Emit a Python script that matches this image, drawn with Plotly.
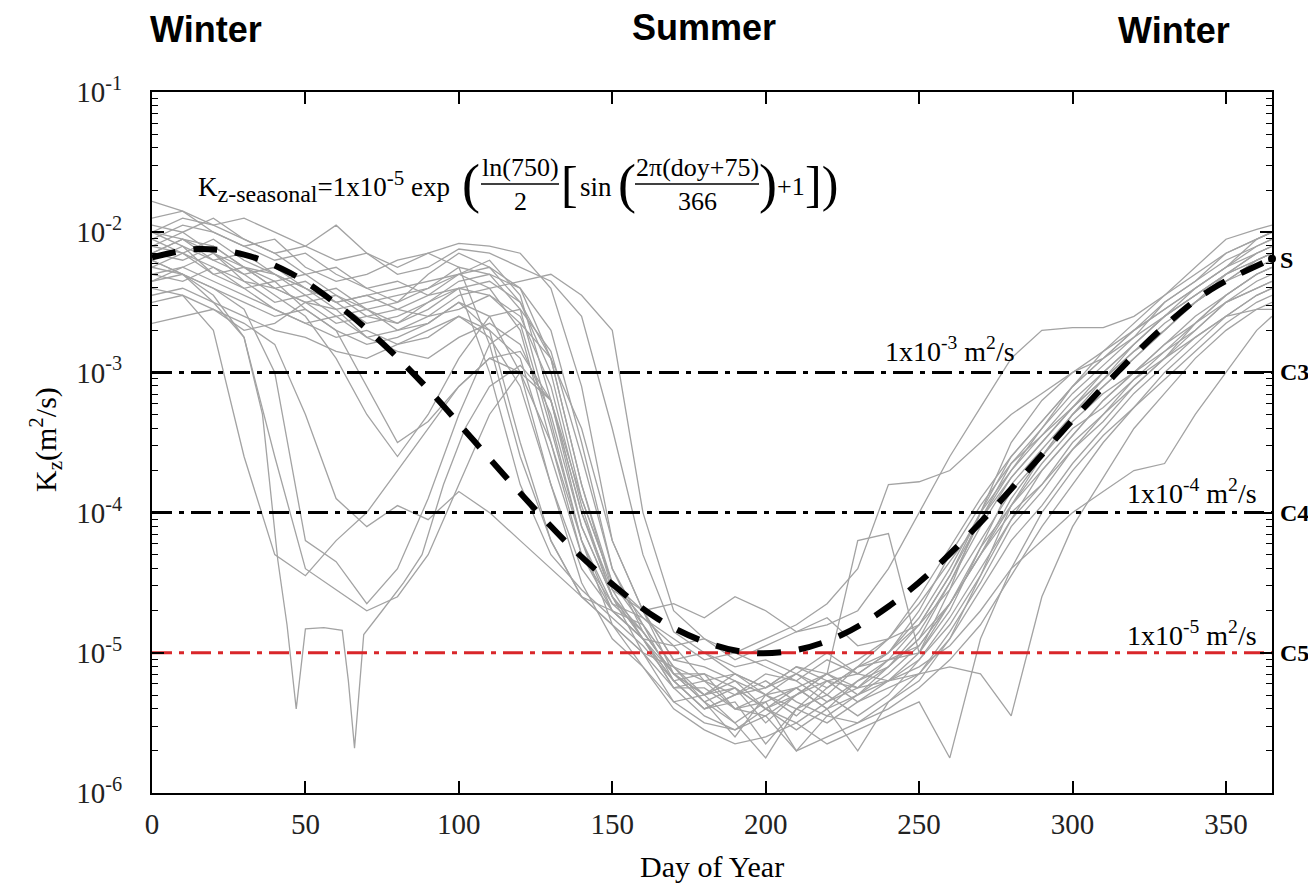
import math
import plotly.graph_objects as go

# ---------------- data (log10 of Kz, in hundredths) ----------------
DAYS = [0, 10, 20, 30, 40, 50, 60, 70, 80, 90, 100, 110, 120, 130, 140, 150, 160, 170, 180, 190,
        200, 210, 220, 230, 240, 250, 260, 270, 280, 290, 300, 310, 320, 330, 340, 350, 360, 365]

L01 = [-205,-195,-200,-210,-220,-215,-230,-240,-235,-245,-230,-225,-240,-290,-380,-450,-470,-505,-510,-520,-530,-515,-525,-510,-505,-500,-470,-425,-380,-355,-330,-310,-290,-270,-250,-230,-215,-210]
L02 = [-230,-225,-215,-235,-250,-245,-260,-255,-270,-265,-250,-270,-350,-420,-460,-480,-500,-535,-530,-550,-535,-570,-545,-550,-535,-520,-490,-445,-395,-370,-345,-320,-300,-285,-270,-250,-240,-235]
L03 = [-220,-210,-230,-240,-235,-255,-270,-310,-350,-335,-310,-290,-285,-320,-400,-455,-490,-520,-515,-540,-545,-530,-520,-535,-520,-500,-465,-430,-395,-365,-340,-325,-305,-290,-265,-245,-230,-225]
L04 = [-200,-190,-195,-205,-215,-210,-195,-215,-230,-225,-212,-215,-225,-235,-260,-340,-430,-485,-500,-510,-505,-515,-500,-515,-500,-470,-430,-395,-365,-340,-315,-295,-275,-250,-235,-215,-205,-200]
L05 = [-215,-205,-220,-230,-225,-240,-250,-245,-255,-260,-245,-240,-235,-230,-245,-270,-400,-470,-490,-500,-510,-520,-505,-515,-520,-505,-480,-445,-405,-370,-345,-320,-300,-280,-265,-245,-230,-225]
L06 = [-240,-245,-270,-360,-430,-445,-420,-400,-370,-340,-310,-290,-300,-350,-420,-470,-490,-525,-520,-540,-530,-545,-525,-510,-500,-480,-445,-405,-365,-345,-325,-305,-285,-270,-250,-235,-225,-220]
L07 = [-225,-230,-245,-275,-360,-440,-455,-470,-460,-430,-380,-330,-300,-320,-390,-450,-480,-510,-530,-520,-540,-555,-540,-520,-505,-495,-465,-430,-390,-360,-335,-315,-300,-280,-260,-245,-230,-225]
L08 = [-250,-245,-255,-265,-280,-330,-390,-410,-395,-405,-385,-400,-420,-440,-460,-480,-500,-510,-535,-550,-575,-540,-550,-535,-525,-515,-490,-455,-420,-395,-365,-340,-315,-295,-275,-260,-245,-240]
L09 = [-190,-185,-200,-210,-205,-225,-235,-230,-220,-215,-225,-280,-360,-420,-460,-470,-480,-520,-540,-530,-515,-520,-535,-520,-510,-490,-465,-425,-395,-360,-330,-305,-280,-260,-240,-225,-205,-200]
L10 = [-210,-215,-225,-235,-240,-250,-245,-260,-265,-255,-240,-245,-265,-340,-420,-480,-510,-535,-550,-555,-545,-570,-560,-550,-540,-525,-505,-480,-445,-410,-380,-350,-325,-300,-280,-260,-245,-240]
L11 = [-220,-230,-240,-250,-260,-255,-270,-280,-275,-265,-250,-260,-300,-380,-440,-470,-490,-495,-520,-515,-525,-510,-515,-420,-415,-500,-455,-400,-350,-320,-300,-285,-270,-255,-240,-225,-215,-210]
L12 = [-200,-205,-215,-225,-230,-240,-250,-245,-240,-235,-230,-240,-270,-350,-430,-465,-475,-495,-490,-505,-495,-485,-480,-470,-440,-400,-360,-325,-290,-270,-268,-268,-260,-245,-230,-215,-205,-200]
L13 = [-215,-220,-210,-225,-240,-235,-250,-265,-260,-250,-240,-235,-250,-300,-390,-450,-475,-490,-505,-500,-490,-480,-465,-440,-380,-378,-370,-350,-330,-315,-300,-290,-275,-260,-245,-230,-220,-215]
L14 = [-235,-225,-235,-245,-255,-265,-275,-270,-280,-270,-260,-275,-310,-380,-450,-490,-510,-540,-555,-565,-560,-550,-565,-555,-545,-535,-575,-490,-440,-400,-370,-345,-325,-305,-285,-265,-250,-245]
L15 = [-225,-215,-205,-220,-230,-240,-255,-250,-245,-240,-230,-220,-245,-320,-410,-460,-485,-515,-530,-525,-540,-550,-535,-525,-520,-515,-510,-515,-545,-460,-410,-375,-340,-315,-290,-270,-255,-250]
L16 = [-245,-240,-250,-260,-270,-275,-285,-290,-280,-275,-260,-270,-290,-360,-430,-470,-490,-525,-525,-540,-535,-525,-540,-530,-520,-510,-495,-470,-440,-420,-400,-385,-370,-365,-330,-300,-270,-260]
L17 = [-178,-185,-195,-190,-200,-210,-220,-215,-225,-215,-208,-210,-215,-240,-310,-420,-470,-505,-500,-515,-525,-510,-520,-515,-500,-475,-440,-400,-370,-340,-310,-285,-265,-245,-225,-205,-198,-195]
L18 = [-265,-260,-255,-270,-265,-250,-255,-275,-285,-290,-275,-265,-280,-330,-410,-460,-490,-520,-540,-535,-565,-540,-530,-545,-530,-505,-475,-440,-405,-380,-350,-330,-310,-290,-275,-260,-255,-255]
L19 = [-200,-210,-220,-215,-230,-245,-240,-255,-265,-250,-235,-230,-240,-270,-350,-440,-485,-515,-535,-560,-530,-525,-515,-530,-515,-495,-465,-430,-400,-380,-355,-335,-310,-290,-270,-250,-235,-230]
L20 = [-210,-200,-215,-230,-245,-260,-290,-330,-360,-330,-290,-260,-255,-285,-360,-440,-480,-510,-520,-530,-520,-535,-545,-530,-510,-490,-450,-405,-370,-345,-320,-300,-280,-260,-245,-230,-215,-210]
L21 = [-195,-200,-190,-205,-215,-230,-225,-240,-250,-230,-215,-225,-250,-290,-380,-455,-470,-465,-475,-460,-470,-485,-475,-495,-490,-480,-445,-400,-360,-335,-310,-290,-270,-255,-240,-225,-210,-205]
L22 = [-230,-235,-225,-240,-255,-265,-260,-275,-270,-260,-255,-245,-260,-310,-395,-460,-500,-525,-545,-555,-540,-525,-540,-570,-535,-515,-485,-450,-410,-385,-355,-330,-305,-285,-265,-250,-240,-235]
L23 = [-215,-205,-210,-225,-235,-230,-245,-255,-250,-240,-225,-230,-255,-335,-420,-465,-485,-515,-515,-525,-550,-530,-515,-525,-505,-480,-455,-420,-385,-360,-330,-310,-290,-270,-250,-235,-220,-215]
L24 = [-205,-215,-230,-225,-240,-250,-265,-260,-255,-245,-240,-300,-380,-430,-455,-475,-495,-520,-540,-530,-525,-515,-530,-510,-490,-460,-425,-390,-360,-335,-310,-290,-270,-250,-235,-220,-210,-205]
L25 = [-220,-230,-240,-255,-300,-420,-435,-465,-440,-390,-330,-280,-265,-290,-340,-420,-470,-515,-530,-515,-530,-540,-520,-525,-510,-485,-450,-410,-375,-350,-325,-300,-280,-260,-245,-230,-220,-215]

# one line with its own, denser day readings (early winter collapse)
S1_DAYS = [0, 10, 20, 30, 36, 41, 44, 47, 50, 56, 62, 64, 66, 69, 75, 82, 88, 95, 102, 110,
           120, 130, 140, 150, 160, 170, 180, 190, 200, 210, 220, 230, 240, 250, 260, 270, 280, 290, 300, 310,
           320, 330, 340, 350, 360, 365]
S1 = [-235,-230,-250,-275,-330,-434,-480,-540,-483,-482,-484,-520,-568,-487,-470,-450,-430,-380,-340,-310,
      -295,-320,-400,-460,-490,-515,-535,-525,-540,-530,-515,-505,-490,-465,-435,-405,-375,-350,-325,-305,
      -285,-265,-250,-235,-220,-215]

GREY_LINES = [L01, L02, L03, L04, L05, L06, L07, L08, L09, L10, L11, L12, L13,
              L14, L15, L16, L17, L18, L19, L20, L21, L22, L23, L24, L25]

# seasonal Kz curve (log10 values)
SEAS_DAYS = [0, 15, 30, 45, 60, 75, 90, 105, 120, 135, 150, 165, 180, 195, 210, 225, 240, 255, 270,
             285, 300, 315, 330, 345, 365]
SEAS_LOG = [-2.18, -2.12, -2.16, -2.29, -2.51, -2.79, -3.12, -3.49, -3.86, -4.21, -4.51, -4.76, -4.92,
            -5.00, -4.98, -4.87, -4.67, -4.40, -4.07, -3.71, -3.34, -2.99, -2.67, -2.41, -2.19]

THRESH = [1e-3, 1e-4, 1e-5]
THRESH_COLORS = ["black", "black", "#d9262a"]
THRESH_LABELS = ["1x10<sup>-3</sup> m<sup>2</sup>/s", "1x10<sup>-4</sup> m<sup>2</sup>/s",
                 "1x10<sup>-5</sup> m<sup>2</sup>/s"]
RIGHT_LABELS = ["S", "C3", "C4", "C5"]
RIGHT_LABEL_VALUES = [10 ** -2.2, 1e-3, 1e-4, 1e-5]

X_TICKS = [0, 50, 100, 150, 200, 250, 300, 350]
Y_TICKS = [1e-6, 1e-5, 1e-4, 1e-3, 1e-2, 1e-1]
Y_TICKTEXT = ["10<sup>-6</sup>", "10<sup>-5</sup>", "10<sup>-4</sup>", "10<sup>-3</sup>",
              "10<sup>-2</sup>", "10<sup>-1</sup>"]
Y_MINOR = [k * 10.0 ** e for e in range(-6, -1) for k in range(2, 10)]

for ln in GREY_LINES:
    assert len(ln) == len(DAYS), len(ln)
assert len(S1) == len(S1_DAYS)
assert len(SEAS_LOG) == len(SEAS_DAYS)

# ---------------- figure ----------------
OFF = 8                       # page body margin of the browser
W, H = 1316 - 2 * OFF, 893 - 2 * OFF
L, R, T, B = 152, 1272, 92, 793   # plot area in window pixels
SERIF = "Liberation Serif"
SANS = "Liberation Sans"


def px(x):
    return (x - L) / (R - L)


def py(y):
    return (B - y) / (B - T)


fig = go.Figure()
GREY = "rgb(163,163,163)"
for ln in GREY_LINES:
    fig.add_trace(go.Scatter(x=DAYS, y=[10 ** (v / 100.0) for v in ln], mode="lines",
                             line=dict(color=GREY, width=1.3), showlegend=False, hoverinfo="skip"))
fig.add_trace(go.Scatter(x=S1_DAYS, y=[10 ** (v / 100.0) for v in S1], mode="lines",
                         line=dict(color=GREY, width=1.3), showlegend=False, hoverinfo="skip"))

for val, col in zip(THRESH, THRESH_COLORS):
    fig.add_trace(go.Scatter(x=[0, 365], y=[val, val], mode="lines",
                             line=dict(color=col, width=3, dash="20px,7px,5px,7px"),
                             showlegend=False, hoverinfo="skip"))

fig.add_trace(go.Scatter(x=SEAS_DAYS, y=[10 ** v for v in SEAS_LOG], mode="lines",
                         line=dict(color="black", width=6, dash="24px,18px", shape="spline", smoothing=1.0),
                         showlegend=False, hoverinfo="skip"))
fig.add_trace(go.Scatter(x=[SEAS_DAYS[-1]], y=[10 ** SEAS_LOG[-1]], mode="markers",
                         marker=dict(color="black", size=8), cliponaxis=False,
                         showlegend=False, hoverinfo="skip"))

annotations = []


def ann(text, x, y, size, family=SERIF, xanchor="center", yanchor="middle", color="black", angle=0):
    annotations.append(dict(text=text, x=px(x), y=py(y), xref="paper", yref="paper",
                            xanchor=xanchor, yanchor=yanchor, showarrow=False, textangle=angle,
                            font=dict(family=family, size=size, color=color)))


# season labels
ann("<b>Winter</b>", 206, 29, 36, SANS)
ann("<b>Summer</b>", 704, 27, 36, SANS)
ann("<b>Winter</b>", 1174, 30, 36, SANS)

# axis titles
ann("K<sub>z</sub>(m<sup>2</sup>/s)", 45, 440, 30, angle=-90)
ann("Day of Year", 712, 866, 30)

# right side labels
for lab, val in zip(RIGHT_LABELS, RIGHT_LABEL_VALUES):
    yy = B - (math.log10(val) + 6) / 5 * (B - T)
    ann("<b>%s</b>" % lab, 1278, yy, 24, xanchor="left")

# threshold labels
ann(THRESH_LABELS[0], 950, 350, 28)
ann(THRESH_LABELS[1], 1192, 492, 28)
ann(THRESH_LABELS[2], 1192, 633, 28)

# formula
FS = 27
FF = 26
ann("K<sub><span style='font-size:24px'>z-seasonal</span></sub>=1x10"
    "<sup><span style='font-size:21px'>-5</span></sup> exp", 196, 186, FS, xanchor="left")
ann("(", 471, 184, 54)
ann("ln(750)", 520, 167, FF)
ann("2", 520, 201, FF)
ann("[", 569, 184, 50)
ann("sin", 578, 187, FS, xanchor="left")
ann("(", 627, 184, 54)
ann("2π(doy+75)", 697, 167, FF)
ann("366", 697, 201, FF)
ann(")", 768, 184, 54)
ann("+1", 775, 187, FF, xanchor="left")
ann("])", 821, 184, 50)

shapes = [
    dict(type="line", xref="paper", yref="paper", x0=px(481), x1=px(559), y0=py(184), y1=py(184),
         line=dict(color="black", width=1.3)),
    dict(type="line", xref="paper", yref="paper", x0=px(635), x1=px(759), y0=py(184), y1=py(184),
         line=dict(color="black", width=1.3)),
]

fig.update_layout(
    width=W, height=H, autosize=False,
    margin=dict(l=L - OFF, r=(W + OFF) - R, t=T - OFF, b=(H + OFF) - B, pad=0),
    paper_bgcolor="white", plot_bgcolor="white",
    showlegend=False,
    annotations=annotations, shapes=shapes,
    font=dict(family=SERIF, color="black"),
)
fig.update_xaxes(range=[0, 365], showline=True, linecolor="black", linewidth=2, mirror="ticks",
                 ticks="inside", ticklen=12, tickwidth=1.5, tickcolor="black",
                 tickmode="array", tickvals=X_TICKS, ticktext=[str(v) for v in X_TICKS],
                 tickfont=dict(family=SERIF, size=29, color="#222"), ticklabelstandoff=4,
                 showgrid=False, zeroline=False)
fig.update_yaxes(type="log", range=[-6, -1], showline=True, linecolor="black", linewidth=2, mirror="ticks",
                 ticks="inside", ticklen=12, tickwidth=1.5, tickcolor="black",
                 tickmode="array", tickvals=Y_TICKS, ticktext=Y_TICKTEXT,
                 tickfont=dict(family=SERIF, size=29, color="#222"), ticklabelstandoff=22,
                 minor=dict(ticks="inside", ticklen=6, tickwidth=1.2, tickcolor="black",
                            tickmode="array", tickvals=Y_MINOR, showgrid=False),
                 showgrid=False, zeroline=False)

fig.write_html("out.html")
